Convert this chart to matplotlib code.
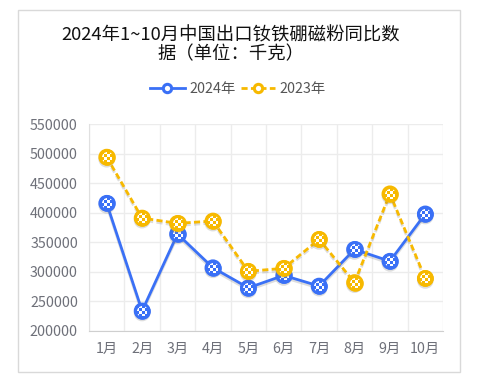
import matplotlib
matplotlib.use("Agg")
from matplotlib import pyplot as plt
from matplotlib.patches import Rectangle
from matplotlib.path import Path
from matplotlib.lines import Line2D
import matplotlib.patheffects as pe

plt.rcParams['font.family'] = ['Noto Sans CJK SC', 'DejaVu Sans']

months = ['1月', '2月', '3月', '4月', '5月', '6月', '7月', '8月', '9月', '10月']
y2024 = [416000, 234000, 364000, 307000, 273000, 294000, 276000, 338000, 318000, 398000]
y2023 = [494000, 391000, 382000, 386000, 301000, 306000, 355000, 282000, 432000, 289000]
yticks = [200000, 250000, 300000, 350000, 400000, 450000, 500000, 550000]

blue = '#3a70f6'
yellow = '#f7b900'
dash = (0, (2.2, 1.2))

# checker pattern marker (white cells)
cells = []
for i in range(4):
    for j in range(4):
        if (i + j) % 2 == 0:
            x0, y0 = i - 2, j - 2
            cells.append(Path([(x0, y0), (x0 + 1, y0), (x0 + 1, y0 + 1), (x0, y0 + 1), (x0, y0)],
                              [Path.MOVETO, Path.LINETO, Path.LINETO, Path.LINETO, Path.CLOSEPOLY]))
checker = Path.make_compound_path(*cells)

W, H = 478, 384
fig = plt.figure(figsize=(W / 100, H / 100), dpi=100)
fig.patches.append(Rectangle((18 / W, 1 - 372 / H), 442 / W, 362 / H, transform=fig.transFigure,
                             fill=False, edgecolor='#d9d9d9', lw=1))

ax = fig.add_axes([89 / W, 1 - 331 / H, 354 / W, 207 / H])
x = list(range(len(months)))

shadow = [pe.SimpleLineShadow(offset=(0, -1.5), shadow_color='#7a7a7a', alpha=0.25, rho=1), pe.Normal()]


def series(vals, color, ls, z):
    ax.plot(x, vals, color=color, lw=2, ls=ls, marker='o', ms=10, mfc=color, mec=color, mew=2,
            zorder=z, path_effects=shadow)
    ax.plot(x, vals, ls='none', marker=checker, ms=7.6, mfc='white', mew=0, zorder=z + 0.1)
    ax.plot(x, vals, ls='none', marker='o', ms=10, mfc='none', mec=color, mew=2, zorder=z + 0.2)


series(y2024, blue, '-', 3)
series(y2023, yellow, dash, 4)

ax.set_xlim(-0.5, 9.5)
ax.set_ylim(200000, 550000)
ax.set_yticks(yticks)
ax.set_yticklabels([str(v) for v in yticks])
ax.set_xticks(x)
ax.set_xticklabels(months)
ax.set_xticks([i + 0.5 for i in range(-1, 10)], minor=True)
ax.grid(False)
ax.grid(True, which='minor', axis='x', color='#ececec', lw=1)
ax.grid(True, which='major', axis='y', color='#ececec', lw=1)
ax.tick_params(axis='both', which='both', length=0, labelsize=10.3, colors='#6e7079', pad=8)
for s in ['top', 'right']:
    ax.spines[s].set_visible(False)
ax.spines['left'].set_color('#e0e0e0')
ax.spines['bottom'].set_color('#cfcfcf')

fig.text(231 / W, 1 - 45 / H, '2024年1~10月中国出口钕铁硼磁粉同比数\n据（单位：千克）', ha='center', va='center',
         fontsize=13.2, color='#111111', linespacing=1.1)

handles = [Line2D([], [], color=blue, lw=2, marker='o', ms=6, mfc='white', mec=blue, mew=2.2),
           Line2D([], [], color=yellow, lw=2, ls=dash, marker='o', ms=6, mfc='white', mec=yellow, mew=2.2)]
fig.legend(handles, ['2024年', '2023年'], loc='center', bbox_to_anchor=(238 / W, 1 - 89 / H), ncol=2,
           frameon=False, fontsize=10.3, handlelength=2.4, columnspacing=0.4, handletextpad=0.3,
           labelcolor='#555555')

fig.savefig('out.png', dpi=100)
